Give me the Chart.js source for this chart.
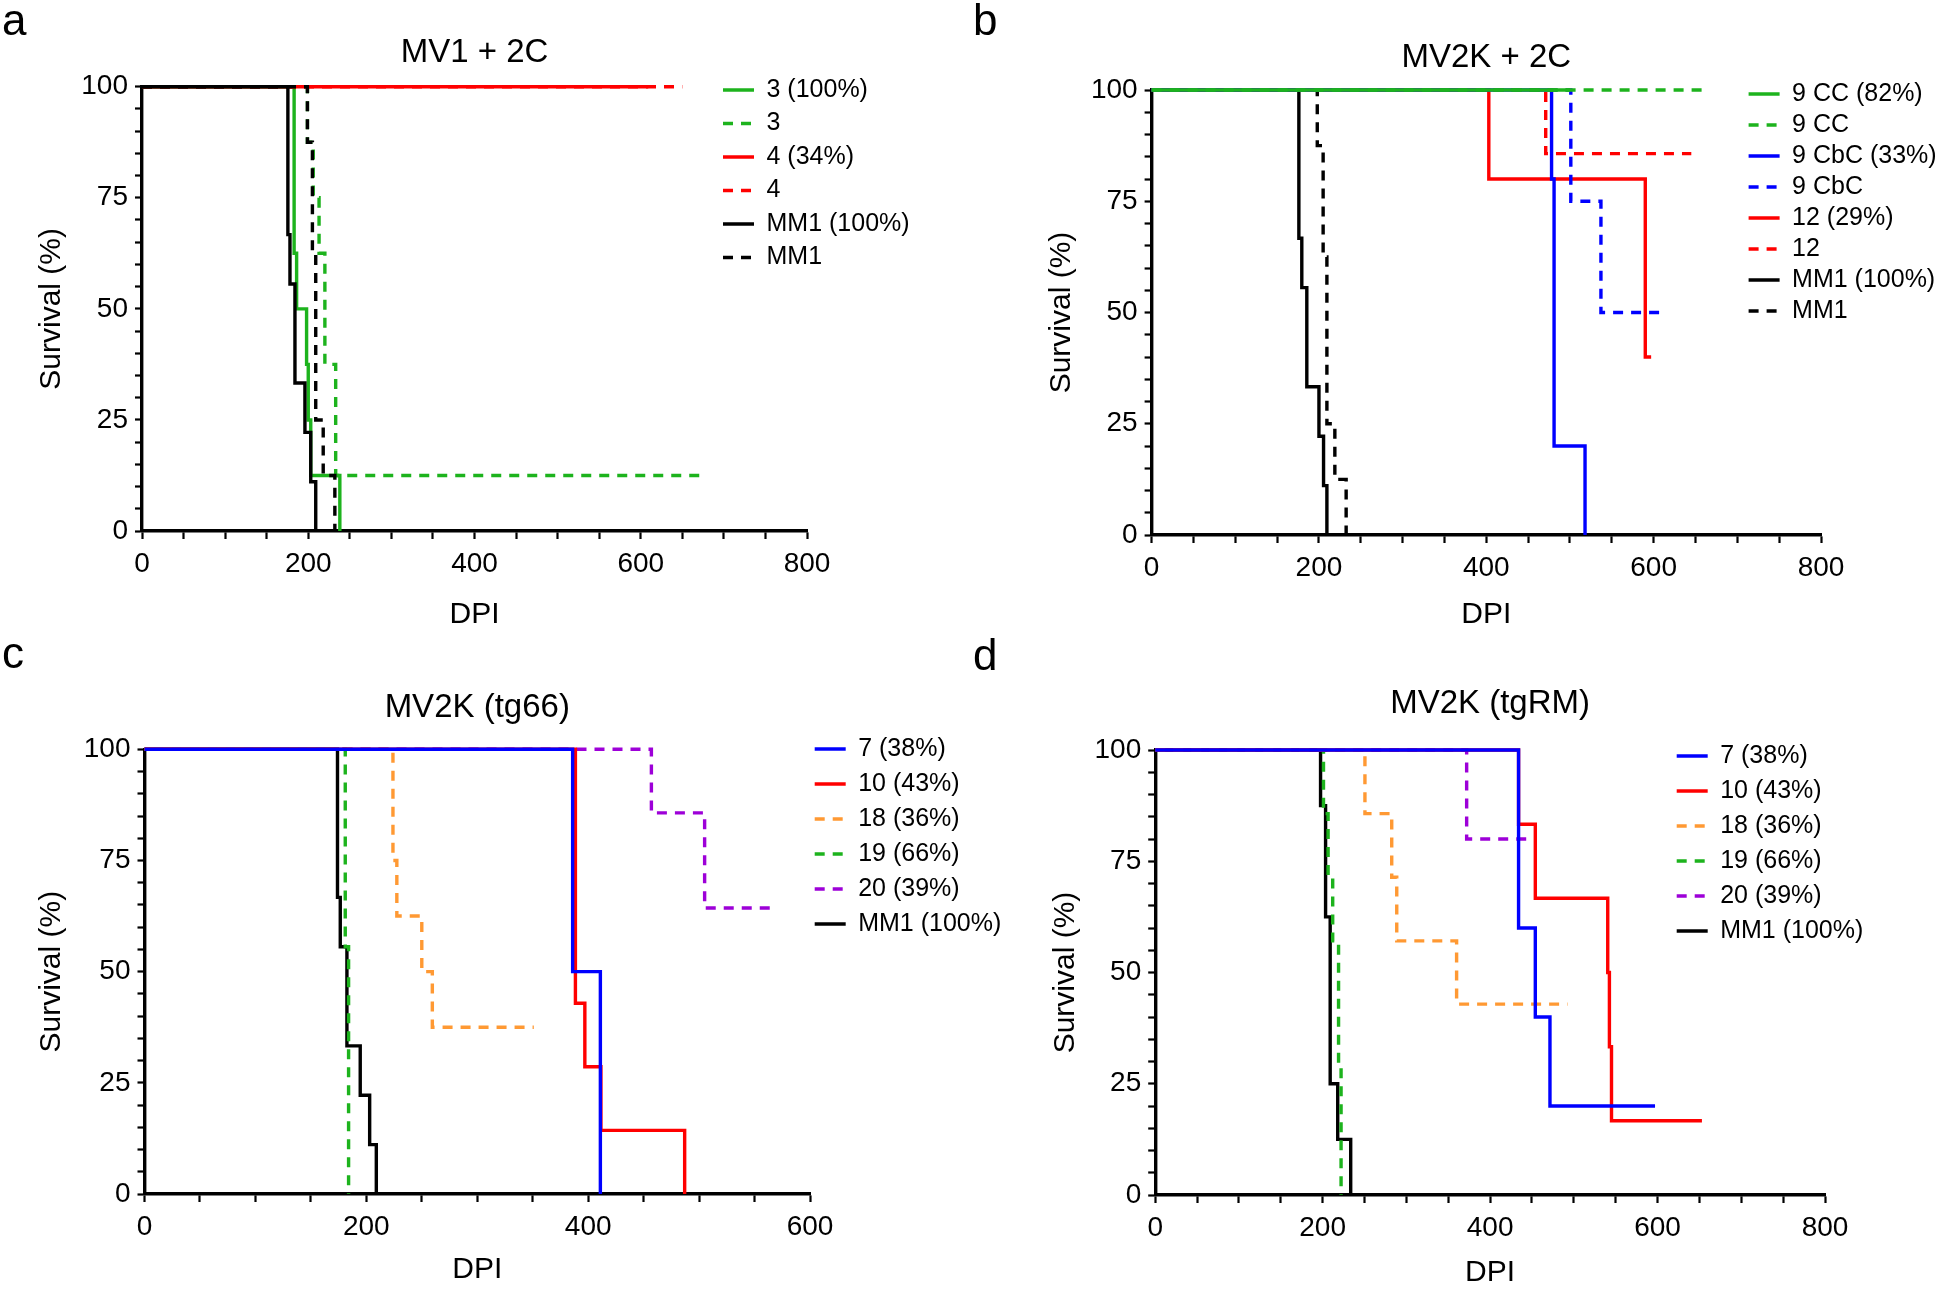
<!DOCTYPE html>
<html>
<head>
<meta charset="utf-8">
<script src="https://cdn.jsdelivr.net/npm/chart.js@4.4.1/dist/chart.umd.min.js"></script>
<style>
  html, body { margin: 0; padding: 0; background: #fff; }
  #page { position: relative; width: 1946px; height: 1291px; overflow: hidden; font-family: "Liberation Sans", Arial, sans-serif; }
  canvas { position: absolute; }
  .tag { position: absolute; font-size: 44px; line-height: 1; color: #000; }
</style>
</head>
<body>
<div id="page">
  <canvas id="ca" width="973" height="645" style="left:0;top:0"></canvas>
  <canvas id="cb" width="973" height="645" style="left:973px;top:0"></canvas>
  <canvas id="cc" width="1010" height="646" style="left:0;top:645px"></canvas>
  <canvas id="cd" width="973" height="646" style="left:973px;top:645px"></canvas>
  <div class="tag" style="left:2px;top:-2px">a</div>
  <div class="tag" style="left:973px;top:-2px">b</div>
  <div class="tag" style="left:2px;top:631px">c</div>
  <div class="tag" style="left:973px;top:633px">d</div>
</div>
<script>
// ---- data (days post inoculation / survival %) ----

// a: MV1 + 2C
const aLabels = ['3 (100%)', '3', '4 (34%)', '4', 'MM1 (100%)', 'MM1'];
const a3Days   = [0, 183, 186, 198, 200, 203, 238];
const a3Surv   = [100, 62.5, 50, 37.5, 25, 12.5, 0];
const a3bDays  = [0, 199, 206, 213, 220, 233, 677];
const a3bSurv  = [100, 87.5, 75, 62.5, 37.5, 12.5, 12.5];
const a4Days   = [0, 609];
const a4Surv   = [100, 100];
const a4bDays  = [0, 650];
const a4bSurv  = [100, 100];
const aMMDays  = [0, 175.5, 178, 184, 196, 203, 209];
const aMMSurv  = [100, 66.7, 55.6, 33.3, 22.2, 11.1, 0];
const aMMbDays = [0, 199, 205, 209, 218, 232];
const aMMbSurv = [100, 87.5, 62.5, 25, 12.5, 0];

// b: MV2K + 2C
const bLabels = ['9 CC (82%)', '9 CC', '9 CbC (33%)', '9 CbC', '12 (29%)', '12', 'MM1 (100%)', 'MM1'];
const bCCDays   = [0, 500];
const bCCSurv   = [100, 100];
const bCCbDays  = [0, 661];
const bCCbSurv  = [100, 100];
const bCbCDays  = [0, 478, 481, 518];
const bCbCSurv  = [100, 80, 20, 0];
const bCbCbDays = [0, 501, 537, 610];
const bCbCbSurv = [100, 75, 50, 50];
const b12Days   = [0, 403, 590, 597];
const b12Surv   = [100, 80, 40, 40];
const b12bDays  = [0, 471, 645];
const b12bSurv  = [100, 85.7, 85.7];
const bMMDays   = [0, 176, 179.5, 185.5, 200, 205.5, 209.5];
const bMMSurv   = [100, 66.7, 55.6, 33.3, 22.2, 11.1, 0];
const bMMbDays  = [0, 198, 205, 209.5, 219, 232.5];
const bMMbSurv  = [100, 87.5, 62.5, 25, 12.5, 0];

// c: MV2K (tg66)
const cLabels = ['7 (38%)', '10 (43%)', '18 (36%)', '19 (66%)', '20 (39%)', 'MM1 (100%)'];
const c7Days  = [0, 386, 411];
const c7Surv  = [100, 50, 0];
const c10Days = [0, 388.5, 397, 411.5, 487];
const c10Surv = [100, 42.9, 28.6, 14.3, 0];
const c18Days = [0, 224, 227.5, 250, 259.5, 351];
const c18Surv = [100, 75, 62.5, 50, 37.5, 37.5];
const c19Days = [0, 181, 184];
const c19Surv = [100, 55.6, 0];
const c20Days = [0, 457, 505, 568];
const c20Surv = [100, 85.7, 64.3, 64.3];
const cMMDays = [0, 174, 176.5, 182.5, 194.5, 203, 209];
const cMMSurv = [100, 66.7, 55.6, 33.3, 22.2, 11.1, 0];

// d: MV2K (tgRM)
const dLabels = ['7 (38%)', '10 (43%)', '18 (36%)', '19 (66%)', '20 (39%)', 'MM1 (100%)'];
const d7Days  = [0, 434, 454, 471.5, 597];
const d7Surv  = [100, 60, 40, 20, 20];
const d10Days = [0, 434, 454, 540.5, 542.5, 545, 653];
const d10Surv = [100, 83.3, 66.7, 50, 33.3, 16.7, 16.7];
const d18Days = [0, 250.5, 282.5, 288.5, 360, 492.5];
const d18Surv = [100, 85.7, 71.4, 57.1, 42.9, 42.9];
const d19Days = [0, 201, 206.5, 212, 219, 222];
const d19Surv = [100, 85.7, 71.4, 57.1, 28.6, 0];
const d20Days = [0, 372, 448];
const d20Surv = [100, 80, 80];
const dMMDays = [0, 197.5, 203.5, 209, 218, 233.5];
const dMMSurv = [100, 87.5, 62.5, 25, 12.5, 0];

// ---- styling ----
Chart.defaults.font.family = '"Liberation Sans", Arial, sans-serif';
Chart.defaults.color = '#000';

const GREEN = '#1db31d', RED = '#ff0000', BLUE = '#0000ff', BLACK = '#000000';
const ORANGE = '#ff9933', PURPLE = '#9d00d8';
const DASH = [10, 8];
const LW = 3.4;

function km(label, days, surv, color, dashed, order) {
  return {
    label: label,
    data: days.map((d, i) => ({ x: d, y: surv[i] })),
    borderColor: color,
    backgroundColor: color,
    borderWidth: LW,
    borderDash: dashed ? DASH : [],
    stepped: 'before',
    pointRadius: 0,
    fill: false,
    clip: false,
    order: order || 0
  };
}

// legend items take dash + width from the dataset line, not the (hidden) points
function lineLabels(chart) {
  const items = Chart.defaults.plugins.legend.labels.generateLabels(chart);
  items.forEach(it => {
    const ds = chart.data.datasets[it.datasetIndex];
    it.lineDash = ds.borderDash;
    it.lineWidth = ds.borderWidth;
    it.strokeStyle = ds.borderColor;
    it.lineCap = 'butt';
  });
  return items;
}

// moves the legend box to a fixed spot so it can sit over the empty plot region
const legendAt = {
  id: 'legendAt',
  afterLayout(chart, args, opts) {
    const lg = chart.legend;
    if (!lg || opts.left == null) return;
    const w = lg.width;
    lg.left = opts.left;
    lg.top = opts.top;
    lg.right = opts.left + w;
    lg.bottom = opts.top + 600;
  }
};

function makePanel(id, p) {
  const fs = 25;
  return new Chart(document.getElementById(id), {
    type: 'line',
    data: { datasets: p.datasets },
    options: {
      responsive: false,
      animation: false,
      events: [],
      layout: { padding: { left: 0, top: 0, bottom: 0, right: p.width - p.plotRight } },
      plugins: {
        title: {
          display: true, text: p.title, fullSize: false, color: '#000',
          font: { size: 33, weight: 'normal' },
          padding: { top: p.titleY - 19.8, bottom: p.plotTop - p.titleY - 19.8 }
        },
        legend: {
          position: 'chartArea', align: 'start',
          labels: {
            usePointStyle: true, pointStyle: 'line', pointStyleWidth: 31,
            color: '#000', font: { size: fs }, padding: p.rowGap - fs,
            generateLabels: lineLabels,
            sort: (a, b) => a.datasetIndex - b.datasetIndex
          }
        },
        legendAt: { left: p.legendX - (p.rowGap - fs), top: p.legendY - (p.rowGap - fs) - fs / 2 },
        tooltip: { enabled: false }
      },
      scales: {
        x: {
          type: 'linear', min: 0, max: p.xMax,
          border: { color: '#000', width: 3.4 },
          grid: { drawOnChartArea: false, drawTicks: true, tickLength: 8, tickWidth: 2.2, tickColor: '#000' },
          ticks: {
            stepSize: 50, maxTicksLimit: 100, autoSkip: false, maxRotation: 0, padding: 8,
            color: '#000', font: { size: 28 },
            callback: v => (v % 200 === 0 ? v : '')
          },
          title: { display: true, text: 'DPI', color: '#000', font: { size: 30 }, padding: { top: 0, bottom: p.dpiPad } },
          afterFit: s => { s.height = p.height - p.plotBottom; }
        },
        y: {
          type: 'linear', min: 0, max: 100,
          border: { color: '#000', width: 3.4 },
          grid: { drawOnChartArea: false, drawTicks: true, tickLength: 7, tickWidth: 2.2, tickColor: '#000' },
          ticks: {
            stepSize: 5, maxTicksLimit: 100, autoSkip: false, padding: 7,
            color: '#000', font: { size: 28 },
            callback: v => (v % 25 === 0 ? v : '')
          },
          title: { display: true, text: 'Survival (%)', color: '#000', font: { size: 30 }, padding: { top: p.yTitleX - 18, bottom: 0 } },
          afterFit: s => { s.width = p.plotLeft; }
        }
      }
    },
    plugins: [legendAt]
  });
}

makePanel('ca', {
  title: 'MV1 + 2C', width: 973, height: 645, xMax: 800,
  plotLeft: 142, plotRight: 807, plotTop: 86.7, plotBottom: 531,
  titleY: 53, yTitleX: 52, dpiPad: 12,
  legendX: 723, legendY: 90, rowGap: 33.5,
  datasets: [
    km(aLabels[0], a3Days, a3Surv, GREEN, false, 4),
    km(aLabels[1], a3bDays, a3bSurv, GREEN, true, 5),
    km(aLabels[2], a4Days, a4Surv, RED, false, 2),
    km(aLabels[3], a4bDays, a4bSurv, RED, true, 3),
    km(aLabels[4], aMMDays, aMMSurv, BLACK, false, 0),
    km(aLabels[5], aMMbDays, aMMbSurv, BLACK, true, 1)
  ]
});

makePanel('cb', {
  title: 'MV2K + 2C', width: 973, height: 645, xMax: 800,
  plotLeft: 178.6, plotRight: 848, plotTop: 90, plotBottom: 535,
  titleY: 57.6, yTitleX: 89, dpiPad: 12,
  legendX: 775.6, legendY: 94, rowGap: 31,
  datasets: [
    km(bLabels[0], bCCDays, bCCSurv, GREEN, false),
    km(bLabels[1], bCCbDays, bCCbSurv, GREEN, true),
    km(bLabels[2], bCbCDays, bCbCSurv, BLUE, false),
    km(bLabels[3], bCbCbDays, bCbCbSurv, BLUE, true),
    km(bLabels[4], b12Days, b12Surv, RED, false),
    km(bLabels[5], b12bDays, b12bSurv, RED, true),
    km(bLabels[6], bMMDays, bMMSurv, BLACK, false),
    km(bLabels[7], bMMbDays, bMMbSurv, BLACK, true)
  ]
});

makePanel('cc', {
  title: 'MV2K (tg66)', width: 1010, height: 646, xMax: 600,
  plotLeft: 144.5, plotRight: 810, plotTop: 104.3, plotBottom: 549,
  titleY: 63, yTitleX: 52, dpiPad: 3,
  legendX: 814.7, legendY: 104, rowGap: 35,
  datasets: [
    km(cLabels[0], c7Days, c7Surv, BLUE, false),
    km(cLabels[1], c10Days, c10Surv, RED, false),
    km(cLabels[2], c18Days, c18Surv, ORANGE, true),
    km(cLabels[3], c19Days, c19Surv, GREEN, true),
    km(cLabels[4], c20Days, c20Surv, PURPLE, true),
    km(cLabels[5], cMMDays, cMMSurv, BLACK, false)
  ]
});

makePanel('cd', {
  title: 'MV2K (tgRM)', width: 973, height: 646, xMax: 800,
  plotLeft: 182.2, plotRight: 852, plotTop: 105, plotBottom: 550,
  titleY: 59, yTitleX: 93, dpiPad: 0,
  legendX: 703.7, legendY: 111, rowGap: 35,
  datasets: [
    km(dLabels[0], d7Days, d7Surv, BLUE, false),
    km(dLabels[1], d10Days, d10Surv, RED, false),
    km(dLabels[2], d18Days, d18Surv, ORANGE, true),
    km(dLabels[3], d19Days, d19Surv, GREEN, true),
    km(dLabels[4], d20Days, d20Surv, PURPLE, true),
    km(dLabels[5], dMMDays, dMMSurv, BLACK, false)
  ]
});
</script>
</body>
</html>
